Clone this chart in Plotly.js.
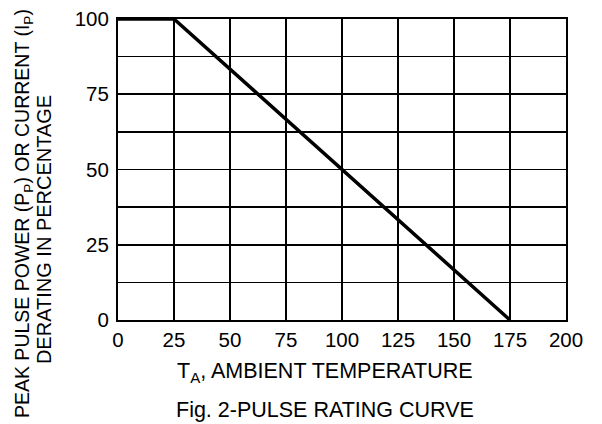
<!DOCTYPE html>
<html>
<head>
<meta charset="utf-8">
<script src="https://cdn.plot.ly/plotly-3.0.1.min.js"></script>
<style>html,body{margin:0;padding:0;background:#fff;}#chart{width:602px;height:424px;}</style>
</head>
<body>
<div id="chart"></div>
<script>
// Derating curve data
var tempC = [0, 25, 175];
var deratingPct = [100, 100, 0];
var xTickVals = [0, 25, 50, 75, 100, 125, 150, 175, 200];
var yTickVals = [0, 25, 50, 75, 100];
var xTitle = 'T<sub>A</sub>, AMBIENT TEMPERATURE';
var yTitleLine1 = 'PEAK PULSE POWER (P<sub>P</sub>) OR CURRENT (I<sub>P</sub>)';
var yTitleLine2 = 'DERATING IN PERCENTAGE';
var caption = 'Fig. 2-PULSE RATING CURVE';

var font = {family: 'Liberation Sans, Arial, sans-serif', color: '#000'};

var trace = {
  x: tempC, y: deratingPct, type: 'scatter', mode: 'lines',
  line: {color: '#000', width: 3.5}, hoverinfo: 'none', cliponaxis: false
};

var layout = {
  width: 602, height: 424,
  margin: {l: 118, r: 36, t: 19, b: 104, pad: 0},
  paper_bgcolor: '#fff', plot_bgcolor: '#fff',
  showlegend: false,
  font: Object.assign({size: 20}, font),
  xaxis: {
    range: [0, 200], tickvals: xTickVals, ticks: '', showgrid: true,
    gridcolor: '#000', gridwidth: 1.6, zeroline: false,
    showline: true, linecolor: '#000', linewidth: 2, mirror: true,
    tickfont: Object.assign({size: 20.5}, font), fixedrange: true
  },
  yaxis: {
    range: [0, 100], tickvals: yTickVals, ticks: '', showgrid: true,
    gridcolor: '#000', gridwidth: 1.6, zeroline: false,
    showline: true, linecolor: '#000', linewidth: 2, mirror: true,
    ticklabelstandoff: 3,
    minor: {dtick: 12.5, tick0: 0, showgrid: true, gridcolor: '#000', gridwidth: 1.6, ticks: ''},
    tickfont: Object.assign({size: 20.5}, font), fixedrange: true
  },
  annotations: [
    {text: xTitle, xref: 'paper', yref: 'paper', x: 0.462, y: -0.173, xanchor: 'center', yanchor: 'middle', showarrow: false, font: Object.assign({size: 21.5}, font)},
    {text: caption, xref: 'paper', yref: 'paper', x: 0.462, y: -0.300, xanchor: 'center', yanchor: 'middle', showarrow: false, font: Object.assign({size: 21.5}, font)},
    {text: yTitleLine1, xref: 'paper', yref: 'paper', x: -0.212, y: 0.352, xanchor: 'center', yanchor: 'middle', textangle: -90, showarrow: false, font: Object.assign({size: 19.5}, font)},
    {text: yTitleLine2, xref: 'paper', yref: 'paper', x: -0.165, y: 0.299, xanchor: 'center', yanchor: 'middle', textangle: -90, showarrow: false, font: Object.assign({size: 20}, font)}
  ]
};

Plotly.newPlot('chart', [trace], layout, {staticPlot: true, displayModeBar: false});
</script>
</body>
</html>
